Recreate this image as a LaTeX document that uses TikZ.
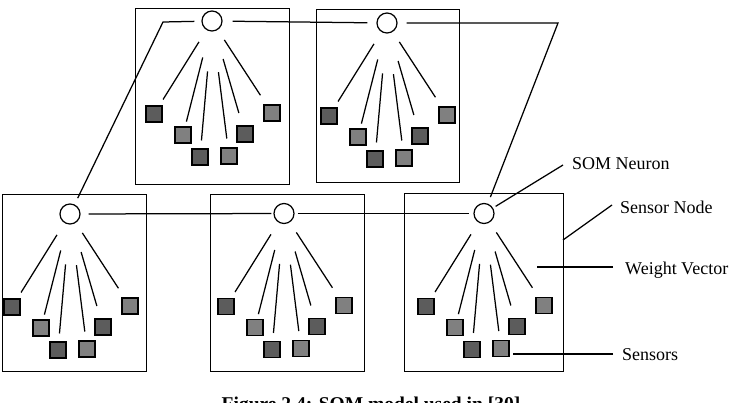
\documentclass[tikz,border=0pt]{standalone}
\usepackage{fontspec}
\setmainfont{Liberation Serif}
\definecolor{sqdark}{gray}{0.36}
\definecolor{sqmid}{gray}{0.5}
\tikzset{
  frame/.style={draw, line width=1.3pt, anchor=north west, inner sep=0pt},
  neuron/.style={draw, circle, line width=1.2pt, minimum size=20pt, inner sep=0pt},
  sensor/.style={draw, line width=1.1pt, minimum size=16pt, inner sep=0pt},
  link/.style={line width=1.25pt},
  wline/.style={line width=1.25pt},
  lbl/.style={font=\fontsize{18}{20}\selectfont, inner sep=0pt, anchor=base west},
}
\newcommand{\sensgroup}[1]{%
  \foreach \i/\dx/\dy/\col/\sa/\sb in {1/-58/93/sqdark/14/7, 2/-29/114/sqmid/27/5, 3/-12/136/sqdark/40/8, 4/17/135/sqmid/41/9, 5/33/113/sqdark/29/13, 6/60/92/sqmid/12/11}{
    \node[sensor, fill=\col] (#1s\i) at ([shift={(\dx,\dy)}]#1.center) {};
    \draw[wline, shorten <=\sa pt, shorten >=\sb pt] (#1) -- (#1s\i);
  }%
}
\begin{document}
\begin{tikzpicture}[x=1pt, y=-1pt]
\useasboundingbox (0,0) rectangle (739,402);
\clip (0,0) rectangle (739,402);
\fill[white] (0,0) rectangle (739,402);
% sensor node frames
\node[frame, minimum width=154pt, minimum height=176pt] (b1) at (135,8) {};
\node[frame, minimum width=143pt, minimum height=173pt] (b2) at (316,9) {};
\node[frame, minimum width=144pt, minimum height=177pt] (b3) at (2,194) {};
\node[frame, minimum width=154pt, minimum height=177pt] (b4) at (210,194) {};
\node[frame, minimum width=159pt, minimum height=178pt] (b5) at (404,193) {};
% SOM neurons
\node[neuron] (c1) at (212,21) {};
\node[neuron] (c2) at (387,23) {};
\node[neuron] (c3) at (70,214) {};
\node[neuron] (c4) at (284,213.5) {};
\node[neuron] (c5) at (484,213.5) {};
% sensors and weight vectors
\sensgroup{c1}
\sensgroup{c2}
\sensgroup{c3}
\sensgroup{c4}
\sensgroup{c5}
% neuron links
\coordinate (k1) at (163,22);
\coordinate (k2) at (558,23);
\draw[link, shorten <=7pt, shorten >=7pt] (c1) -- (k1) -- (c3);
\draw[link, shorten <=10pt, shorten >=9pt] (c1) -- (c2);
\draw[link, shorten <=9pt, shorten >=7pt] (c2) -- (k2) -- (c5);
\draw[link, shorten <=8pt, shorten >=2pt] (c3) -- (c4);
\draw[link, shorten <=3pt, shorten >=4pt] (c4) -- (c5);
% labels
\node[lbl] (lsom) at (572,169) {SOM Neuron};
\node[lbl] (lsn) at (620,213) {Sensor Node};
\node[lbl] (lwv) at (625,274) {Weight Vector};
\node[lbl] (lsen) at (622,360) {Sensors};
\coordinate (a1) at (563,165);
\coordinate (a2) at (612,205);
\coordinate (a2e) at (563,240);
\coordinate (a3) at (613,267);
\coordinate (a3e) at (537,267);
\coordinate (a4) at (613,354);
\coordinate (a4e) at (513,354);
\draw[link, shorten >=3pt] (a1) -- (c5);
\draw[link] (a2) -- (a2e);
\draw[link] (a3) -- (a3e);
\draw[link] (a4) -- (a4e);
% caption (cut off by the page edge, as in the reference)
\node[font=\bfseries\fontsize{19.5}{22}\selectfont, anchor=base, inner sep=0pt] (cap) at (371,410) {Figure 2.4: SOM model used in [30]};
\end{tikzpicture}
\end{document}
